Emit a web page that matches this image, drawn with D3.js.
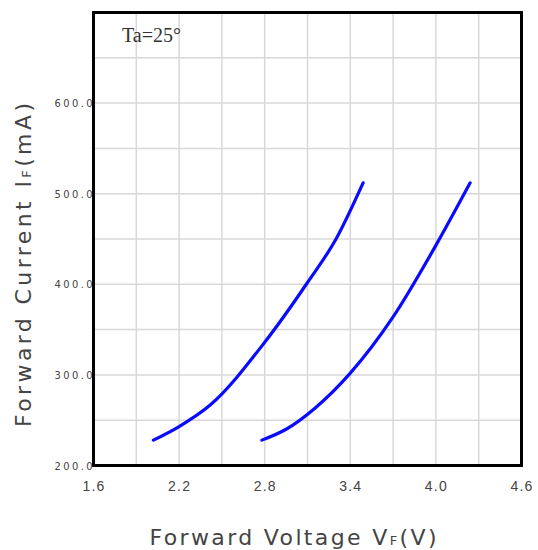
<!DOCTYPE html>
<html>
<head>
<meta charset="utf-8">
<script src="https://cdn.jsdelivr.net/npm/d3@7"></script>
<style>
  html, body { margin: 0; padding: 0; background: #fff; }
  svg { display: block; }
</style>
</head>
<body>
<svg id="chart" width="538" height="550"></svg>
<script>
// ---- data ----
const curveA_V = [2.02, 2.2, 2.42, 2.8, 3.1, 3.3, 3.49];
const curveA_I = [228, 243, 267, 336, 402, 450, 512];
const curveB_V = [2.78, 2.95, 3.15, 3.4, 3.7, 4.0, 4.24];
const curveB_I = [228, 240, 263, 302, 364, 443, 512];
const xTickValues = [1.6, 2.2, 2.8, 3.4, 4.0, 4.6];
const yTickValues = [200, 300, 400, 500, 600];
const xGridStep = 0.3;
const yGridStep = 50;
const xDomain = [1.6, 4.6];
const yDomain = [200, 700];
const annotation = "Ta=25°";

// ---- layout ----
const svg = d3.select("#chart");
const L = 93.5, R = 521.5, T = 12.5, B = 465.5;

const x = d3.scaleLinear().domain(xDomain).range([L, R]);
const y = d3.scaleLinear().domain(yDomain).range([B, T]);

const xGrid = d3.range(xDomain[0], xDomain[1] + 1e-9, xGridStep);
const yGrid = d3.range(yDomain[0], yDomain[1] + 1e-9, yGridStep);

// grid
const grid = svg.append("g").attr("stroke", "#d8d8d8").attr("stroke-width", 1.5);
grid.selectAll("line.v").data(xGrid).join("line")
  .attr("x1", d => x(d)).attr("x2", d => x(d))
  .attr("y1", T).attr("y2", B);
grid.selectAll("line.h").data(yGrid).join("line")
  .attr("y1", d => y(d)).attr("y2", d => y(d))
  .attr("x1", L).attr("x2", R);

// curves
const line = d3.line()
  .x(d => x(d[0])).y(d => y(d[1]))
  .curve(d3.curveMonotoneX);
const seriesA = curveA_V.map((v, i) => [v, curveA_I[i]]);
const seriesB = curveB_V.map((v, i) => [v, curveB_I[i]]);
svg.selectAll("path.curve").data([seriesA, seriesB]).join("path")
  .attr("class", "curve")
  .attr("d", line)
  .attr("fill", "none")
  .attr("stroke", "#0a0aff")
  .attr("stroke-width", 3.2)
  .attr("stroke-linecap", "round");

// frame
svg.append("rect")
  .attr("x", L).attr("y", T)
  .attr("width", R - L).attr("height", B - T)
  .attr("fill", "none").attr("stroke", "#000").attr("stroke-width", 3);

// x axis tick labels
const xAxis = d3.axisBottom(x).tickValues(xTickValues)
  .tickFormat(d3.format(".1f")).tickSize(0).tickPadding(16);
const gx = svg.append("g").attr("transform", `translate(0,${B})`).call(xAxis);
gx.select(".domain").remove();
gx.selectAll("text")
  .attr("font-family", "Liberation Sans, Arial, sans-serif")
  .attr("font-size", 14)
  .attr("letter-spacing", 1.2)
  .attr("fill", "#444");

// y axis tick labels
const yAxis = d3.axisLeft(y).tickValues(yTickValues)
  .tickFormat(d3.format(".1f")).tickSize(0).tickPadding(1);
const gy = svg.append("g").attr("transform", `translate(${L},0)`).call(yAxis);
gy.select(".domain").remove();
gy.selectAll("text")
  .attr("font-family", "DejaVu Sans Condensed, DejaVu Sans, sans-serif")
  .attr("font-size", 11)
  .attr("textLength", 38)
  .attr("lengthAdjust", "spacing")
  .attr("fill", "#444");

// annotation
svg.append("text")
  .attr("x", 122).attr("y", 42)
  .attr("font-family", "Liberation Serif, Times New Roman, serif")
  .attr("font-size", 20)
  .attr("fill", "#333")
  .text(annotation);

// x axis title
const xt = svg.append("text")
  .attr("x", 293).attr("y", 545)
  .attr("text-anchor", "middle")
  .attr("font-family", "DejaVu Sans, sans-serif")
  .attr("font-size", 22)
  .attr("fill", "#444")
  .attr("textLength", 287)
  .attr("lengthAdjust", "spacing");
xt.append("tspan").text("Forward Voltage V");
xt.append("tspan").attr("font-size", 13).text("F");
xt.append("tspan").text("(V)");

// y axis title
const yt = svg.append("text")
  .attr("transform", "translate(31,265) rotate(-90)")
  .attr("text-anchor", "middle")
  .attr("font-family", "DejaVu Sans, sans-serif")
  .attr("font-size", 22)
  .attr("fill", "#444")
  .attr("textLength", 324)
  .attr("lengthAdjust", "spacing");
yt.append("tspan").text("Forward Current I");
yt.append("tspan").attr("font-size", 13).text("F");
yt.append("tspan").text("(mA)");
</script>
</body>
</html>
